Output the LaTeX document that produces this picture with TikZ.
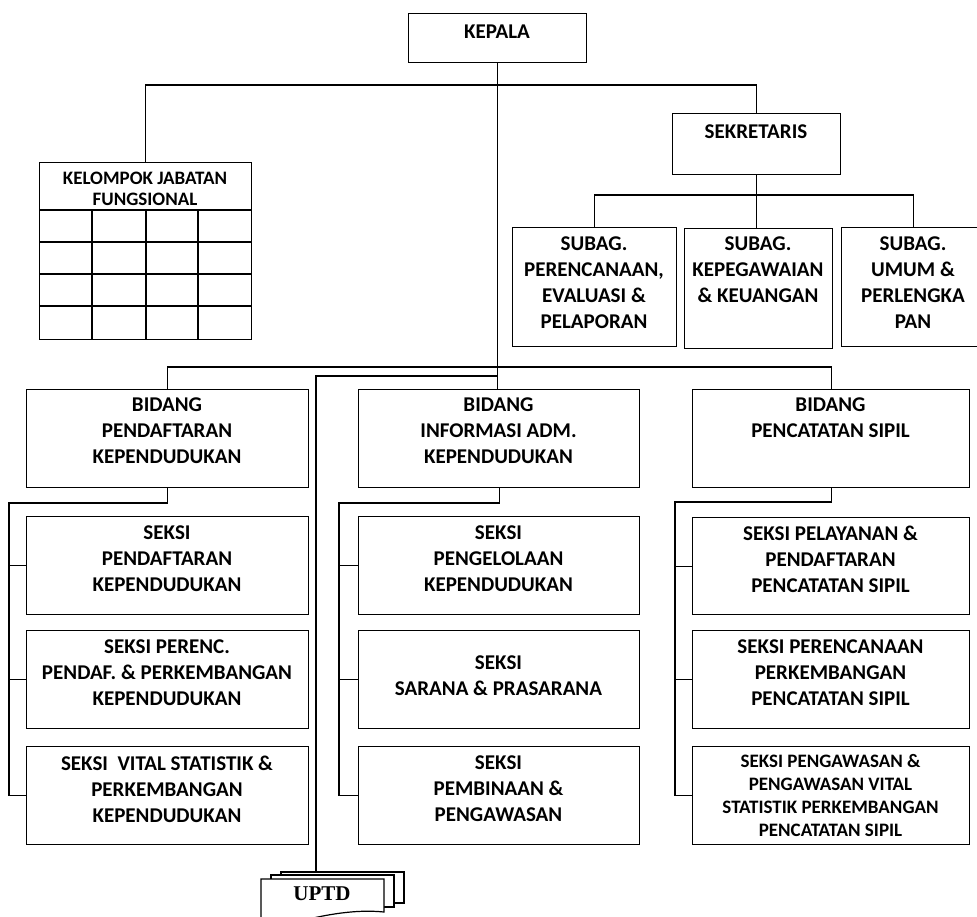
\documentclass[tikz,border=0pt]{standalone}
\usepackage{fontspec}
\setmainfont{Carlito}
\newfontfamily\uptdfont{Liberation Serif}
\begin{document}
\begin{tikzpicture}[x=1pt,y=-1pt,
  box/.style={draw, line width=1.3pt, inner sep=0pt, anchor=north west, fill=white},
  lbl/.style={font=\bfseries\fontsize{21}{26}\selectfont, align=center, anchor=north, inner sep=0pt},
  lblsm/.style={font=\bfseries\fontsize{19}{23}\selectfont, align=center, anchor=north, inner sep=0pt},
  lblhd/.style={font=\bfseries\fontsize{19}{21}\selectfont, align=center, anchor=north, inner sep=0pt},
  conn/.style={line width=1.2pt},
  page/.style={draw, line width=1.2pt, fill=white}]
\fill[white] (0,0) rectangle (977,917);
\useasboundingbox (0,0) rectangle (977,917);
\clip (0,0) rectangle (977,917);

% boxes
\node[box, minimum width=178pt, minimum height=49pt] (kepala) at (408,13) {};
\node[box, minimum width=168pt, minimum height=61pt] (sekr) at (672,113) {};
\node[box, minimum width=164pt, minimum height=119pt] (sub1) at (512,227) {};
\node[box, minimum width=148pt, minimum height=120pt] (sub2) at (684,228) {};
\node[box, minimum width=144pt, minimum height=119pt] (sub3) at (841,227) {};
\node[box, minimum width=212pt, minimum height=177pt] (kjf) at (39,162) {};

\node[box, minimum width=282pt, minimum height=98pt] (bid1) at (26,389) {};
\node[box, minimum width=281pt, minimum height=98pt] (bid2) at (358,389) {};
\node[box, minimum width=277pt, minimum height=98pt] (bid3) at (692,389) {};

\node[box, minimum width=282pt, minimum height=98pt] (s11) at (26,516) {};
\node[box, minimum width=282pt, minimum height=98pt] (s12) at (26,630) {};
\node[box, minimum width=282pt, minimum height=98pt] (s13) at (26,746) {};
\node[box, minimum width=281pt, minimum height=98pt] (s21) at (358,516) {};
\node[box, minimum width=281pt, minimum height=98pt] (s22) at (358,630) {};
\node[box, minimum width=281pt, minimum height=98pt] (s23) at (358,746) {};
\node[box, minimum width=277pt, minimum height=97pt] (s31) at (692,517) {};
\node[box, minimum width=277pt, minimum height=98pt] (s32) at (692,630) {};
\node[box, minimum width=277pt, minimum height=98pt] (s33) at (692,746) {};

% table grid
\foreach \yy in {210,242,274,306} \draw[conn] (kjf.west |- 0,\yy) -- (kjf.east |- 0,\yy);
\foreach \xx in {92,146,198} \draw[conn] (\xx,210) -- (kjf.south -| \xx,0);

% labels
\node[lbl] (kepala-t) at (497,25) {KEPALA};
\node[lbl] (sekr-t) at (756,125) {SEKRETARIS};
\node[lbl] (sub1-t) at (594,237) {SUBAG.\\PERENCANAAN,\\EVALUASI \&\\PELAPORAN};
\node[lbl] (sub2-t) at (758,237) {SUBAG.\\KEPEGAWAIAN\\\& KEUANGAN};
\node[lbl] (sub3-t) at (913,237) {SUBAG.\\UMUM \&\\PERLENGKA\\PAN};
\node[lblhd] (kjf-t) at (145,172) {KELOMPOK JABATAN\\FUNGSIONAL};

\node[lbl] (bid1-t) at (167,398) {BIDANG\\PENDAFTARAN\\KEPENDUDUKAN};
\node[lbl] (bid2-t) at (498.5,398) {BIDANG\\INFORMASI ADM.\\KEPENDUDUKAN};
\node[lbl] (bid3-t) at (830.5,398) {BIDANG\\PENCATATAN SIPIL};

\node[lbl] (s11-t) at (167,526) {SEKSI\\PENDAFTARAN\\KEPENDUDUKAN};
\node[lbl] (s12-t) at (167,640) {SEKSI PERENC.\\PENDAF. \& PERKEMBANGAN\\KEPENDUDUKAN};
\node[lbl] (s13-t) at (167,756) {SEKSI\ \ VITAL STATISTIK \&\\PERKEMBANGAN\\KEPENDUDUKAN};
\node[lbl] (s21-t) at (498.5,526) {SEKSI\\PENGELOLAAN\\KEPENDUDUKAN};
\node[lbl] (s22-t) at (498.5,656) {SEKSI\\SARANA \& PRASARANA};
\node[lbl] (s23-t) at (498.5,756) {SEKSI\\PEMBINAAN \&\\PENGAWASAN};
\node[lbl] (s31-t) at (830.5,526) {SEKSI PELAYANAN \&\\PENDAFTARAN\\PENCATATAN SIPIL};
\node[lbl] (s32-t) at (830.5,640) {SEKSI PERENCANAAN\\PERKEMBANGAN\\PENCATATAN SIPIL};
\node[lblsm] (s33-t) at (830.5,754) {SEKSI PENGAWASAN \&\\PENGAWASAN VITAL\\STATISTIK PERKEMBANGAN\\PENCATATAN SIPIL};

% connectors top
\draw[conn] (kepala.south) -- (kepala.south |- bid2.north);
\draw[conn] (kjf.north) -- ++(0,-77) -| (sekr.north);
\draw[conn] (sekr.south) -- (sekr.south |- sub2.north);
\draw[conn] (sub1.north) -- ++(0,-32) -| (sub3.north);
\draw[conn] (bid1.north) -- ++(0,-22) -| (bid3.north);

% bidang -> seksi
\coordinate (r1) at (9,503);
\draw[conn] (bid1.south) |- (r1) |- (s13.west);
\draw[conn] (r1 |- s11.west) -- (s11.west);
\draw[conn] (r1 |- s12.west) -- (s12.west);
\coordinate (r2) at (339,503);
\draw[conn] (bid2.south) |- (r2) |- (s23.west);
\draw[conn] (r2 |- s21.west) -- (s21.west);
\draw[conn] (r2 |- s22.west) -- (s22.west);
\coordinate (r3) at (675,502);
\draw[conn] (bid3.south) |- (r3) |- (s33.west);
\draw[conn] (r3 |- s31.west) -- (s31.west);
\draw[conn] (r3 |- s32.west) -- (s32.west);

% UPTD multi-document
\draw[page] (281,903) -- (281,872) -- (404,872) -- (404,903) -- cycle;
\draw[page] (271,907) -- (271,875) -- (394,875) -- (394,907) -- cycle;
\draw[page] (261,935) -- (261,879) -- (384,879) -- (384,912)
  .. controls (355,909) and (325,915) .. (300,921)
  .. controls (285,925) and (272,926) .. (261,926) -- cycle;
\node[font=\uptdfont\bfseries\fontsize{21}{25}\selectfont, inner sep=0pt] (uptd) at (322,894) {UPTD};
\coordinate (uptdtop) at (316,872);
\draw[conn] (kepala.south |- 0,376) -| (uptdtop);
\end{tikzpicture}
\end{document}
